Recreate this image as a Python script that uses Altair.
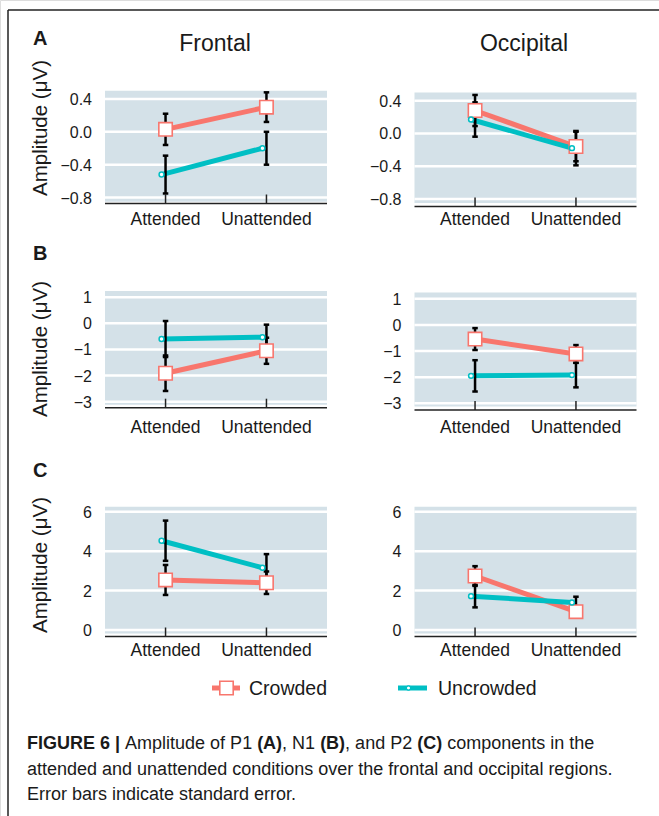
import altair as alt
import pandas as pd

FONT = "Liberation Sans"
RED = "#F8766D"
TEAL = "#00BFC4"
PANEL_BG = "#D4E1E8"

conditions = ["Attended", "Unattended"]
groups = ["Crowded", "Uncrowded"]
components = ["A", "B", "C"]
regions = ["Frontal", "Occipital"]

# mean amplitude (uV), ordered [Attended, Unattended]
P1_FRONTAL = {"Crowded": [0.03, 0.30], "Uncrowded": [-0.52, -0.20]}
P1_FRONTAL_SE = {"Crowded": [0.19, 0.18], "Uncrowded": [0.23, 0.20]}
P1_OCCIPITAL = {"Crowded": [0.28, -0.16], "Uncrowded": [0.17, -0.18]}
P1_OCCIPITAL_SE = {"Crowded": [0.19, 0.18], "Uncrowded": [0.21, 0.21]}
N1_FRONTAL = {"Crowded": [-1.91, -1.05], "Uncrowded": [-0.60, -0.53]}
N1_FRONTAL_SE = {"Crowded": [0.68, 0.50], "Uncrowded": [0.69, 0.48]}
N1_OCCIPITAL = {"Crowded": [-0.54, -1.11], "Uncrowded": [-1.95, -1.92]}
N1_OCCIPITAL_SE = {"Crowded": [0.42, 0.34], "Uncrowded": [0.60, 0.47]}
P2_FRONTAL = {"Crowded": [2.54, 2.40], "Uncrowded": [4.53, 3.16]}
P2_FRONTAL_SE = {"Crowded": [0.76, 0.57], "Uncrowded": [1.02, 0.69]}
P2_OCCIPITAL = {"Crowded": [2.74, 0.93], "Uncrowded": [1.72, 1.40]}
P2_OCCIPITAL_SE = {"Crowded": [0.50, 0.28], "Uncrowded": [0.57, 0.29]}

y_ticks = {"A": [-0.8, -0.4, 0.0, 0.4], "B": [-3, -2, -1, 0, 1], "C": [0, 2, 4, 6]}
y_tick_labels = {
    "A": ["\u22120.8", "\u22120.4", "0.0", "0.4"],
    "B": ["\u22123", "\u22122", "\u22121", "0", "1"],
    "C": ["0", "2", "4", "6"],
}
y_domains = {"A": [-0.85, 0.50], "B": [-3.12, 1.24], "C": [-0.17, 6.25]}

panel_values = {
    ("A", "Frontal"): (P1_FRONTAL, P1_FRONTAL_SE),
    ("A", "Occipital"): (P1_OCCIPITAL, P1_OCCIPITAL_SE),
    ("B", "Frontal"): (N1_FRONTAL, N1_FRONTAL_SE),
    ("B", "Occipital"): (N1_OCCIPITAL, N1_OCCIPITAL_SE),
    ("C", "Frontal"): (P2_FRONTAL, P2_FRONTAL_SE),
    ("C", "Occipital"): (P2_OCCIPITAL, P2_OCCIPITAL_SE),
}

rows = []
for (comp, region), (means, ses) in panel_values.items():
    for g in groups:
        for i, c in enumerate(conditions):
            m = means[g][i]
            s = ses[g][i]
            rows.append(dict(comp=comp, region=region, group=g, cond=c,
                             mean=m, lo=m - s, hi=m + s))
df = pd.DataFrame(rows)

# ---------- layout (pixels) ----------
GEOM = {
    ("A", "Frontal"): dict(x=(105, 327), y=(201.7, 90.7), axis=203.5, lab=220),
    ("A", "Occipital"): dict(x=(414.5, 636.5), y=(203.0, 92.5), axis=206.5, lab=220),
    ("B", "Frontal"): dict(x=(105, 327), y=(404.8, 291.0), axis=407.7, lab=427.5),
    ("B", "Occipital"): dict(x=(414.5, 636.5), y=(406.4, 292.6), axis=410, lab=427.5),
    ("C", "Frontal"): dict(x=(105, 327), y=(633.4, 506.8), axis=636.5, lab=651),
    ("C", "Occipital"): dict(x=(414.5, 636.5), y=(633.4, 506.8), axis=636.5, lab=651),
}

ONE = pd.DataFrame({"k": [0]})


def label(text, x, y, size, weight="normal", align="left", baseline="middle", angle=0):
    return alt.Chart(pd.DataFrame({"t": [text]})).mark_text(
        align=align, baseline=baseline, fontSize=size, fontWeight=weight,
        font=FONT, color="#1a1a1a", angle=angle,
    ).encode(x=alt.value(x), y=alt.value(y), text="t:N")


def panel(comp, region):
    g = GEOM[(comp, region)]
    x0, x1 = g["x"]
    ybot, ytop = g["y"]
    ax = g["axis"]
    d = df[(df.comp == comp) & (df.region == region)]
    xs = alt.X("cond:N", scale=alt.Scale(type="point", domain=conditions,
                                          range=[x0, x1], padding=0.6), axis=None)
    ysc = alt.Scale(domain=y_domains[comp], range=[ybot, ytop], nice=False, zero=False)

    tick_df = pd.DataFrame({"v": y_ticks[comp], "lab": y_tick_labels[comp]})
    cond_df = pd.DataFrame({"cond": conditions})

    bg = alt.Chart(ONE).mark_rect(color=PANEL_BG).encode(
        x=alt.value(x0), x2=alt.value(x1), y=alt.value(ytop), y2=alt.value(ybot))
    grid = alt.Chart(tick_df).mark_rule(color="white", strokeWidth=2.5).encode(
        y=alt.Y("v:Q", scale=ysc, axis=None), x=alt.value(x0), x2=alt.value(x1))
    ylabs = alt.Chart(tick_df).mark_text(
        align="right", baseline="middle", fontSize=16, font=FONT, color="#1a1a1a", dy=1
    ).encode(y=alt.Y("v:Q", scale=ysc, axis=None), x=alt.value(x0 - 13), text="lab:N")
    axline = alt.Chart(ONE).mark_rule(color="#222222", strokeWidth=1.5).encode(
        x=alt.value(x0), x2=alt.value(x1), y=alt.value(ax))
    xticks = alt.Chart(cond_df).mark_rule(color="#222222", strokeWidth=1.5).encode(
        x=xs, y=alt.value(ax - 9), y2=alt.value(ax))
    xlabs = alt.Chart(cond_df).mark_text(
        baseline="middle", fontSize=17.5, font=FONT, color="#1a1a1a"
    ).encode(x=xs, y=alt.value(g["lab"]), text="cond:N")

    dc = d[d.group == "Crowded"]
    du = d[d.group == "Uncrowded"]
    yv = alt.Y("mean:Q", scale=ysc, axis=None)
    line_c = alt.Chart(dc).mark_line(color=RED, strokeWidth=5).encode(x=xs, y=yv)
    line_u = alt.Chart(du).mark_line(color=TEAL, strokeWidth=5, xOffset=-4).encode(x=xs, y=yv)
    err = alt.Chart(d).mark_rule(color="black", strokeWidth=2.5).encode(
        x=xs, y=alt.Y("lo:Q", scale=ysc, axis=None), y2="hi:Q")
    cap_lo = alt.Chart(d).mark_tick(color="black", thickness=2.5, size=5.5, opacity=1).encode(
        x=xs, y=alt.Y("lo:Q", scale=ysc, axis=None))
    cap_hi = alt.Chart(d).mark_tick(color="black", thickness=2.5, size=5.5, opacity=1).encode(
        x=xs, y=alt.Y("hi:Q", scale=ysc, axis=None))
    pt_c = alt.Chart(dc).mark_square(size=180, filled=True, fill="white", stroke=RED,
                                     strokeWidth=1.6, opacity=1).encode(x=xs, y=yv)
    pt_u = alt.Chart(du).mark_point(shape="circle", size=24, filled=True, fill="white",
                                    stroke=TEAL, strokeWidth=1.5, opacity=1,
                                    xOffset=-4).encode(x=xs, y=yv)
    return alt.layer(bg, grid, ylabs, axline, xticks, xlabs,
                     line_c, line_u, err, cap_lo, cap_hi, pt_c, pt_u)


panels = [panel(c, r) for c in components for r in regions]

# ---------- annotations ----------
decor = []
# frame
decor.append(alt.Chart(ONE).mark_rule(color="#222222", strokeWidth=1.5).encode(
    x=alt.value(8), x2=alt.value(659), y=alt.value(10)))
decor.append(alt.Chart(ONE).mark_rule(color="#222222", strokeWidth=1.5).encode(
    x=alt.value(8), y=alt.value(10), y2=alt.value(816)))

decor.append(label("Frontal", 215, 44, 23, align="center"))
decor.append(label("Occipital", 524, 44, 23, align="center"))
for letter, yb in zip(components, [45, 260, 477]):
    decor.append(label(letter, 33, yb, 20, weight="bold", baseline="alphabetic"))
for yc in [128, 349, 565]:
    decor.append(label("Amplitude (\u03bcV)", 41, yc, 20.5, align="center", angle=270))

# legend
decor.append(alt.Chart(ONE).mark_rule(color=RED, strokeWidth=5).encode(
    x=alt.value(212), x2=alt.value(240), y=alt.value(688)))
decor.append(alt.Chart(ONE).mark_square(size=180, filled=True, fill="white", stroke=RED,
                                        strokeWidth=1.6, opacity=1).encode(
    x=alt.value(226.5), y=alt.value(688)))
decor.append(label(groups[0], 249, 689, 19.5))
decor.append(alt.Chart(ONE).mark_rule(color=TEAL, strokeWidth=5).encode(
    x=alt.value(398), x2=alt.value(427), y=alt.value(688)))
decor.append(alt.Chart(ONE).mark_point(shape="circle", size=18, filled=True, fill="white",
                                       stroke=TEAL, strokeWidth=1.2, opacity=1).encode(
    x=alt.value(408.5), y=alt.value(688)))
decor.append(label(groups[1], 438, 689, 19.5))

# caption (mixed bold / regular)
W_REG = {" ": 278, "(": 333, ")": 333, ",": 278, ".": 278, "|": 260, "A": 667, "B": 667,
         "C": 722, "N": 722, "P": 667, "a": 556, "c": 500, "d": 556, "e": 556, "f": 278,
         "h": 556, "i": 222, "l": 222, "m": 833, "n": 556, "o": 556, "p": 556, "r": 333,
         "s": 500, "t": 278, "u": 556, "v": 500}
W_BOLD = {" ": 278, "(": 333, ")": 333, "|": 280, "A": 722, "B": 722, "C": 722, "E": 667,
          "F": 611, "G": 778, "I": 278, "R": 722, "U": 722, "6": 556}
CAP = 18


def tw(s, bold):
    tab = W_BOLD if bold else W_REG
    return sum(tab.get(ch, 556) for ch in s) / 1000 * CAP


segments = [("FIGURE 6 |", True), (" Amplitude of P1 ", False), ("(A)", True),
            (", N1 ", False), ("(B)", True), (", and P2 ", False), ("(C)", True),
            (" components in the", False)]
cx = 27
for s, b in segments:
    lead = len(s) - len(s.lstrip(" "))
    core = s.strip(" ")
    start = cx + tw(" " * lead, b)
    decor.append(label(core, start, 744, CAP, weight="bold" if b else "normal"))
    cx += tw(s, b)
decor.append(label("attended and unattended conditions over the frontal and occipital regions.",
                   27, 770, CAP))
decor.append(label("Error bars indicate standard error.", 27, 795, CAP))

chart = alt.layer(*panels, *decor).resolve_scale(
    x="independent", y="independent"
).properties(
    width=659, height=816, padding=0,
    autosize=alt.AutoSizeParams(type="none"),
).configure_view(stroke=None).configure(background="white")

chart.save("out.html", embed_options={"renderer": "svg", "actions": False})
